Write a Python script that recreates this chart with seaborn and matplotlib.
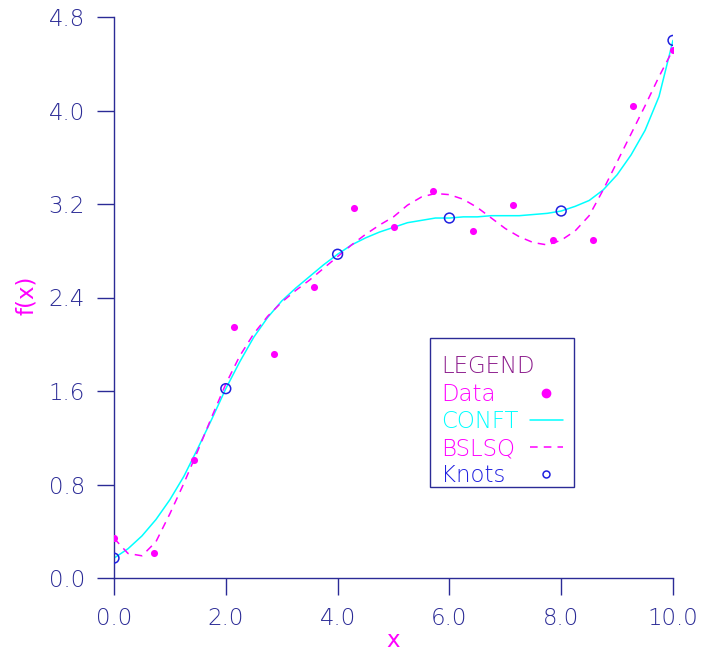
import numpy as np
import pandas as pd
import matplotlib
matplotlib.use("Agg")
import matplotlib.pyplot as plt
import matplotlib.patches as mpatches
from matplotlib.lines import Line2D
import seaborn as sns

# ---- data ----
data_x = [0.0, 0.714, 1.429, 2.143, 2.857, 3.571, 4.286, 5.0, 5.714, 6.429,
          7.143, 7.857, 8.571, 9.286, 10.0]
data_y = [0.34, 0.21, 1.01, 2.15, 1.92, 2.49, 3.17, 3.00, 3.31, 2.97,
          3.19, 2.89, 2.89, 4.04, 4.52]

knot_x = [0.0, 2.0, 4.0, 6.0, 8.0, 10.0]
knot_y = [0.17, 1.62, 2.77, 3.08, 3.14, 4.60]

curve_x = [0.0, 0.25, 0.5, 0.75, 1.0, 1.25, 1.5, 1.75, 2.0, 2.25, 2.5, 2.75,
           3.0, 3.25, 3.5, 3.75, 4.0, 4.25, 4.5, 4.75, 5.0, 5.25, 5.5, 5.75,
           6.0, 6.25, 6.5, 6.75, 7.0, 7.25, 7.5, 7.75, 8.0, 8.25, 8.5, 8.75,
           9.0, 9.25, 9.5, 9.75, 10.0]
conft_y = [0.17, 0.25, 0.36, 0.50, 0.67, 0.87, 1.11, 1.36, 1.62, 1.85, 2.06, 2.23,
           2.37, 2.48, 2.58, 2.68, 2.77, 2.85, 2.91, 2.96, 3.00, 3.04, 3.06, 3.08,
           3.08, 3.09, 3.09, 3.10, 3.10, 3.10, 3.11, 3.12, 3.14, 3.18, 3.23, 3.32,
           3.45, 3.62, 3.83, 4.12, 4.60]
bslsq_y = [0.34, 0.21, 0.19, 0.31, 0.55, 0.81, 1.09, 1.38, 1.66, 1.90, 2.09, 2.24,
           2.36, 2.46, 2.55, 2.65, 2.75, 2.85, 2.94, 3.02, 3.09, 3.19, 3.26, 3.29,
           3.28, 3.24, 3.17, 3.08, 2.99, 2.92, 2.87, 2.85, 2.89, 2.97, 3.10, 3.32,
           3.56, 3.80, 4.04, 4.29, 4.52]

x_ticks = [0.0, 2.0, 4.0, 6.0, 8.0, 10.0]
x_ticklabels = ["0.0", "2.0", "4.0", "6.0", "8.0", "10.0"]
y_ticks = [0.0, 0.8, 1.6, 2.4, 3.2, 4.0, 4.8]
y_ticklabels = ["0.0", "0.8", "1.6", "2.4", "3.2", "4.0", "4.8"]

legend_labels = ["Data", "CONFT", "BSLSQ", "Knots"]

# ---- style ----
sns.set_style("white")
plt.rcParams['font.family'] = ['DejaVu Sans']
plt.rcParams['font.weight'] = 'light'
NAVY = '#2b2b96'
MAG = '#ff00ff'
CYAN = '#00ffff'
BLUE = '#2020e0'
PURPLE = '#8c1c8c'
FS = 16.5

W, H = 704, 653
AX_L, AX_R, AX_T, AX_B = 114, 673, 17, 578
fig = plt.figure(figsize=(W / 100, H / 100), dpi=100)
ax = fig.add_axes([AX_L / W, (H - AX_B) / H, (AX_R - AX_L) / W, (AX_B - AX_T) / H])


def axfrac(px, py):
    return ((px - AX_L) / (AX_R - AX_L), (AX_B - py) / (AX_B - AX_T))


curves = pd.DataFrame({'x': curve_x, 'conft': conft_y, 'bslsq': bslsq_y})
sns.lineplot(data=curves, x='x', y='conft', ax=ax, color=CYAN, lw=1.1)
sns.lineplot(data=curves, x='x', y='bslsq', ax=ax, color=MAG, lw=1.1)
ax.lines[-1].set_dashes([5, 4])
sns.scatterplot(x=data_x, y=data_y, ax=ax, color=MAG, s=26, edgecolor=MAG,
                linewidth=0, zorder=3)
sns.scatterplot(x=knot_x, y=knot_y, ax=ax, facecolor='none', edgecolor=BLUE,
                s=50, linewidth=1.1, zorder=4, marker='o')

ax.set_xlim(0, 10)
ax.set_ylim(0, 4.8)
ax.set_xticks(x_ticks)
ax.set_xticklabels(x_ticklabels)
ax.set_yticks(y_ticks)
ax.set_yticklabels(y_ticklabels)
for s in ['top', 'right']:
    ax.spines[s].set_visible(False)
for s in ['left', 'bottom']:
    ax.spines[s].set_color(NAVY)
    ax.spines[s].set_linewidth(1.0)
ax.tick_params(axis='both', direction='out', length=12, width=1.0,
               color=NAVY, labelcolor=NAVY, labelsize=FS, pad=9,
               left=True, bottom=True)

ax.set_xlabel('x', color=MAG, fontsize=FS, va='baseline')
ax.set_ylabel('f(x)', color=MAG, fontsize=FS, va='center')
ax.xaxis.set_label_coords(*axfrac(393, 647))
ax.yaxis.set_label_coords(*axfrac(27, 295))

# legend box drawn by hand
x0, y0 = axfrac(430, 487)
x1, y1 = axfrac(574, 338)
ax.add_patch(mpatches.Rectangle((x0, y0), x1 - x0, y1 - y0, transform=ax.transAxes,
                                fill=True, facecolor='white', edgecolor=NAVY,
                                lw=1.0, zorder=5, clip_on=False))
row_base = [373, 401, 428, 455, 482]
row_mid = [b - 8 for b in row_base]
ax.text(*axfrac(441, row_base[0]), 'LEGEND', color=PURPLE, fontsize=FS,
        va='baseline', ha='left', transform=ax.transAxes, zorder=6)
for lab, col, yb in zip(legend_labels, [MAG, CYAN, MAG, BLUE], row_base[1:]):
    ax.text(*axfrac(441, yb), lab, color=col, fontsize=FS, va='baseline',
            ha='left', transform=ax.transAxes, zorder=6)
# handles
ax.add_line(Line2D([axfrac(546, 0)[0]], [axfrac(0, row_mid[1])[1]],
                   transform=ax.transAxes, marker='o', ms=6, color=MAG,
                   mec=MAG, ls='none', zorder=6, clip_on=False))
ax.add_line(Line2D([axfrac(530, 0)[0], axfrac(563, 0)[0]],
                   [axfrac(0, row_mid[2])[1]] * 2, transform=ax.transAxes,
                   color=CYAN, lw=1.1, zorder=6, clip_on=False))
ax.add_line(Line2D([axfrac(530, 0)[0], axfrac(563, 0)[0]],
                   [axfrac(0, row_mid[3])[1]] * 2, transform=ax.transAxes,
                   color=MAG, lw=1.1, dashes=[5, 4], zorder=6, clip_on=False))
ax.add_line(Line2D([axfrac(546, 0)[0]], [axfrac(0, row_mid[4])[1]],
                   transform=ax.transAxes, marker='o', ms=5, mfc='none',
                   mec=BLUE, mew=1.1, ls='none', zorder=6, clip_on=False))

fig.savefig('out.png', dpi=100, facecolor='white')
